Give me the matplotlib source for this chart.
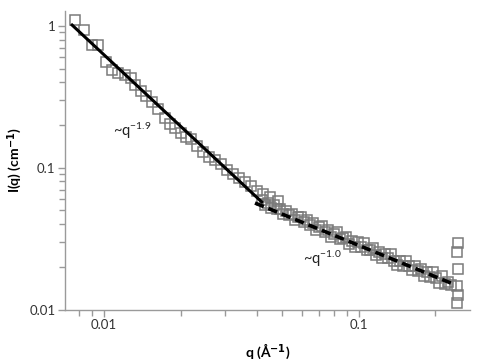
import matplotlib
matplotlib.use("Agg")
import matplotlib.pyplot as plt
from matplotlib.ticker import FixedLocator, FixedFormatter, LogLocator, NullFormatter

plt.rcParams['font.family'] = ['Lato', 'DejaVu Sans']
plt.rcParams['mathtext.default'] = 'regular'

# ---- data ----
q_low = [0.00769, 0.00831, 0.00897, 0.00947, 0.01019, 0.01075, 0.01135, 0.01209,
         0.01277, 0.01324, 0.01398, 0.01462, 0.01544, 0.0163, 0.01738, 0.01816,
         0.01901, 0.02008, 0.0210, 0.0220, 0.02318, 0.02449, 0.02587, 0.0273,
         0.02884, 0.03044, 0.03213, 0.03392, 0.0358, 0.03781, 0.0399, 0.0422,
         0.0449, 0.0483]
I_low = [1.10, 0.937, 0.734, 0.734, 0.557, 0.489, 0.466, 0.451,
         0.430, 0.383, 0.348, 0.321, 0.291, 0.260, 0.224, 0.204,
         0.191, 0.176, 0.165, 0.160, 0.142, 0.129, 0.119, 0.1135,
         0.1063, 0.0964, 0.0903, 0.0847, 0.0793, 0.0743, 0.0685, 0.0653,
         0.0622, 0.0582]

q_high = [0.04177, 0.04292, 0.04410, 0.04531, 0.04656, 0.04784, 0.04916, 0.05051,
          0.05190, 0.05333, 0.05480, 0.05631, 0.05786, 0.05945, 0.06109, 0.06277,
          0.06450, 0.06627, 0.06809, 0.06996, 0.07188, 0.07386, 0.07589, 0.07798,
          0.08012, 0.08232, 0.08458, 0.08691, 0.08930, 0.09176, 0.09428, 0.09687,
          0.09954, 0.10228, 0.10509, 0.10798, 0.11095, 0.11400, 0.11714, 0.12036,
          0.12367, 0.12707, 0.13056, 0.13415, 0.13784, 0.14163, 0.14553, 0.14953,
          0.15364, 0.15787, 0.16221, 0.16667, 0.17125, 0.17596, 0.18080, 0.18577,
          0.19088, 0.19613, 0.20152, 0.20706, 0.21276, 0.21861, 0.22462, 0.23080]
I_high = [0.0594, 0.0546, 0.0562, 0.0516, 0.0549, 0.0513, 0.0511, 0.0469,
          0.0499, 0.0466, 0.0472, 0.0427, 0.0447, 0.0452, 0.0416, 0.0428,
          0.0393, 0.0405, 0.0366, 0.0383, 0.0388, 0.0351, 0.0361, 0.0326,
          0.0341, 0.0351, 0.0313, 0.0317, 0.0326, 0.0290, 0.0303, 0.0274,
          0.0297, 0.0277, 0.0294, 0.0262, 0.0265, 0.0273, 0.0243, 0.0254,
          0.0230, 0.0248, 0.0232, 0.0247, 0.0219, 0.0205, 0.0221, 0.0203,
          0.0220, 0.0202, 0.0189, 0.0204, 0.0188, 0.0193, 0.0172, 0.0183,
          0.0170, 0.0184, 0.0167, 0.0153, 0.0171, 0.0152, 0.0157, 0.0149]

q_end = [0.2455, 0.2440, 0.2455, 0.2440, 0.2455, 0.2440]
I_end = [0.0294, 0.0255, 0.0192, 0.0147, 0.0127, 0.0112]

fit1_q = [0.00742, 0.0421]
fit1_I = [1.033, 0.0564]
fit2_q = [0.0392, 0.232]
fit2_I = [0.0564, 0.0153]

label1 = '~q$^{-1.9}$'
label1_pos = (0.01085, 0.182)
label2 = '~q$^{-1.0}$'
label2_pos = (0.0605, 0.0227)

x_major = [0.01, 0.1]
x_major_labels = ['0.01', '0.1']
y_major = [0.01, 0.1, 1]
y_major_labels = ['0.01', '0.1', '1']
x_lim = (0.00703, 0.274)
y_lim = (0.01, 1.276)

# ---- figure ----
fig = plt.figure(figsize=(4.82, 3.62), dpi=100)
ax = fig.add_axes([0.1349, 0.145, 0.975 - 0.1349, 0.9696 - 0.145])

mk = dict(marker='s', linestyle='none', markersize=7.8, markerfacecolor='none',
          markeredgecolor='#7a7a7a', markeredgewidth=1.1)
ax.plot(q_low, I_low, **mk)
ax.plot(q_high, I_high, **mk)
ax.plot(q_end, I_end, **mk)

ax.plot(fit1_q, fit1_I, color='black', linewidth=2.2, solid_capstyle='butt')
ax.plot(fit2_q, fit2_I, color='black', linewidth=2.6, linestyle=(0, (2.6, 1.4)))

ax.text(*label1_pos, label1, fontsize=10.5, color='#222222', ha='left', va='center')
ax.text(*label2_pos, label2, fontsize=10.5, color='#222222', ha='left', va='center')

ax.set_xscale('log')
ax.set_yscale('log')
ax.set_xlim(*x_lim)
ax.set_ylim(*y_lim)

ax.xaxis.set_major_locator(FixedLocator(x_major))
ax.xaxis.set_major_formatter(FixedFormatter(x_major_labels))
ax.yaxis.set_major_locator(FixedLocator(y_major))
ax.yaxis.set_major_formatter(FixedFormatter(y_major_labels))
ax.xaxis.set_minor_locator(LogLocator(base=10, subs=range(2, 10)))
ax.yaxis.set_minor_locator(LogLocator(base=10, subs=range(2, 10)))
ax.xaxis.set_minor_formatter(NullFormatter())
ax.yaxis.set_minor_formatter(NullFormatter())

for s in ['top', 'right']:
    ax.spines[s].set_visible(False)
for s in ['left', 'bottom']:
    ax.spines[s].set_color('#9a9a9a')
    ax.spines[s].set_linewidth(1.0)

ax.tick_params(which='major', direction='out', length=5, width=1.0, color='#9a9a9a',
               labelsize=9.5, labelcolor='#333333', pad=2)
ax.tick_params(which='minor', direction='out', length=4, width=1.0, color='#9a9a9a')

ax.set_xlabel('q (Å$^{\\mathbf{-1}}$)', fontsize=10, fontweight='bold')
ax.set_ylabel('I(q) (cm$^{\\mathbf{-1}}$)', fontsize=10, fontweight='bold')
ax.xaxis.set_label_coords(0.5, -0.108)
ax.yaxis.set_label_coords(-0.100, 0.5)

fig.savefig('out.png', dpi=100)
